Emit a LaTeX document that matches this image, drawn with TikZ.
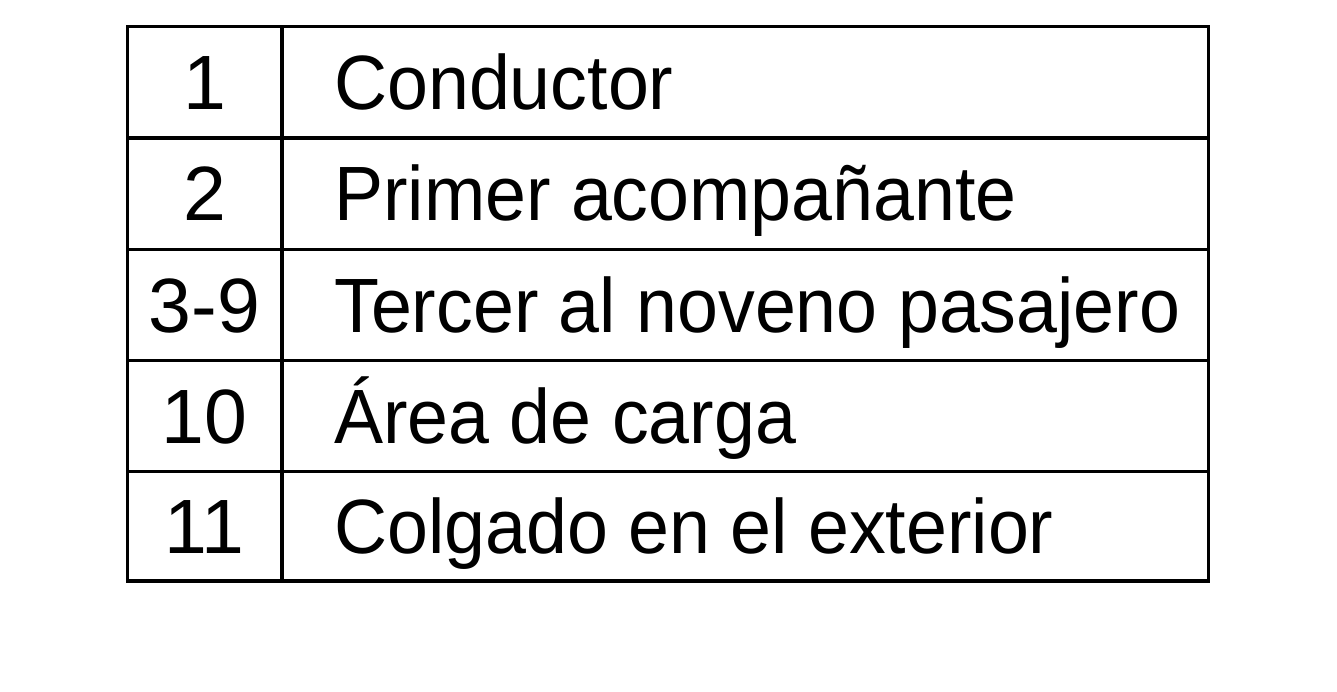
\documentclass[tikz,border=0pt]{standalone}
\usepackage{fontspec}
\setmainfont{Liberation Sans}
\newcommand{\narrowtxt}[1]{\scalebox{0.955}[1]{#1}}
\begin{document}
\begin{tikzpicture}[x=1pt,y=-1pt,
  cell/.style={inner sep=0pt,anchor=base,font=\fontsize{77}{80}\selectfont},
  desc/.style={inner sep=0pt,anchor=base west,font=\fontsize{77}{80}\selectfont},
  grid/.style={line width=3.2pt},
  frame/.style={line width=3.6pt}]
\useasboundingbox (0,0) rectangle (1337,692);
\fill[white] (0,0) rectangle (1337,692);
% coordinates
\coordinate (tl) at (127.5,26.5);
\coordinate (br) at (1208.5,581);
% row lines
\foreach \y/\n in {138/a,249.5/b,360.5/c,471.5/d}{
  \coordinate (l\n) at (127.5,\y);
  \coordinate (r\n) at (1208.5,\y);
  \draw[grid] (l\n) -- (r\n);
}
\coordinate (ct) at (282,26.5);
\coordinate (cb) at (282,581);
\draw[grid] (ct) -- (cb);
\draw[frame] (tl) rectangle (br);
% texts
\foreach \yc/\num/\txt/\k in {82.25/1/Conductor/1, 193.75/2/Primer acompañante/2, 305/3-9/Tercer al noveno pasajero/3, 416/10/Área de carga/4, 526.25/11/Colgado en el exterior/5}{
  \node[cell] (n\k) at (204.5,\yc+27) {\num};
  \node[desc] (t\k) at (334,\yc+27) {\narrowtxt{\txt}};
}
\end{tikzpicture}
\end{document}
